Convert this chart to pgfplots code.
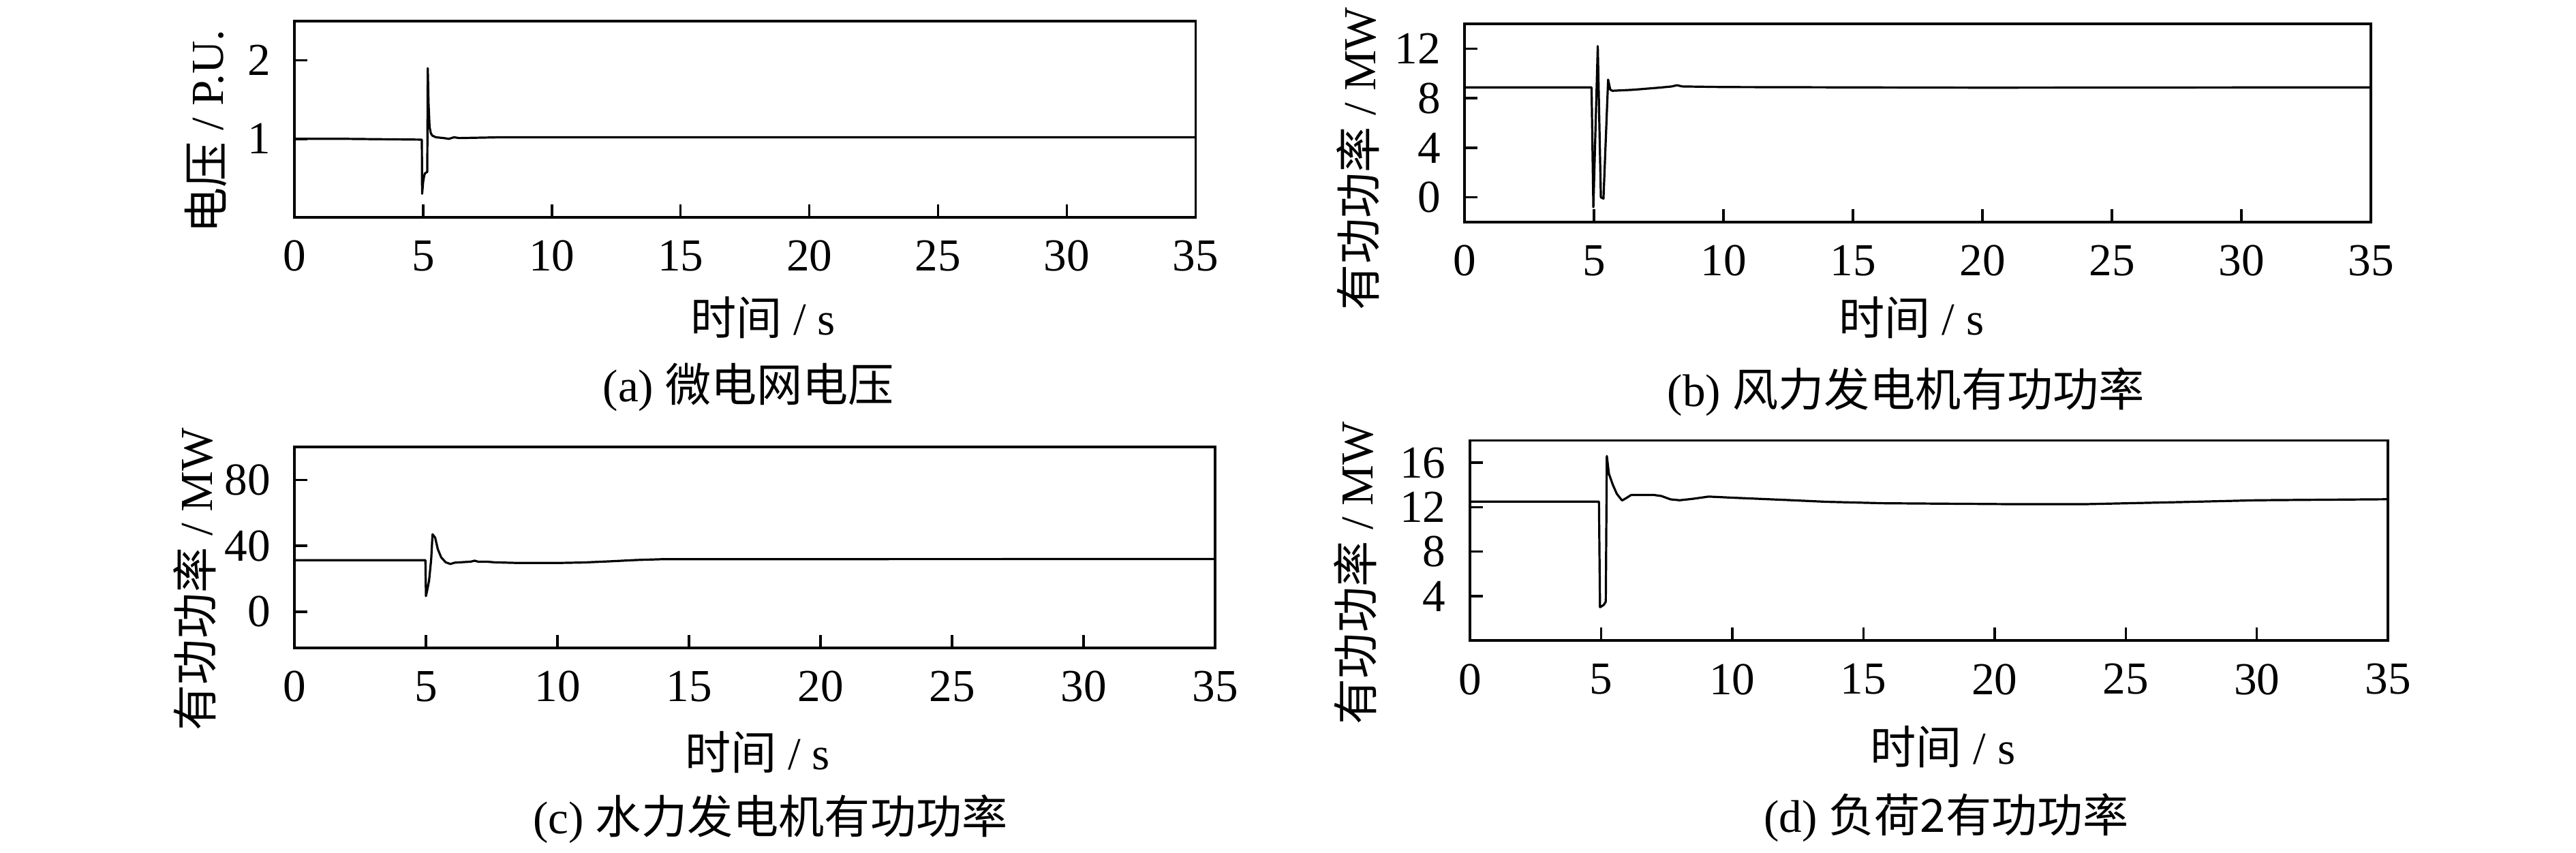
\documentclass[border=0pt]{standalone}
\usepackage{fontspec}
\setmainfont{Liberation Serif}
\newfontfamily\cjk{Noto Sans CJK SC}
\usepackage{pgfplots}
\pgfplotsset{compat=1.18}
\pgfplotsset{
  every axis title shift=0pt,
  myax/.style={
    scale only axis, xmin=0, xmax=35, xtick={0,5,...,35},
    tick align=inside, xtick pos=left, ytick pos=left,
    major tick length=3pt,
    axis line style={line width=0.55pt},
    every tick/.style={line width=0.55pt, black},
    tick label style={font=\fontsize{10.5}{12}\selectfont},
    label style={font=\fontsize{10.5}{12}\selectfont},
    title style={font=\fontsize{10.5}{12}\selectfont, anchor=center},
    /pgf/number format/assume math mode=true,
    xticklabel style={yshift=-1.8pt},
    yticklabel style={xshift=-2pt},
    xlabel={{\cjk 时间} / s},
    xlabel style={anchor=center},
    ylabel style={anchor=center},
  },
  ln/.style={black, line width=0.5pt, line join=round, no marks, sharp plot},
}
\begin{document}
\begin{tikzpicture}
\path[use as bounding box] (0,0) rectangle (590.6pt,-195.6pt);
% (a)
\begin{axis}[myax, at={(67.5pt,-49.84pt)}, anchor=south west,
  width=206.6pt, height=45pt, ymin=0, ymax=2.5, ytick={1,2},
  ylabel={{\cjk 电压} / P.U.},
  ylabel style={at={(axis description cs:-0.098,0.4375)}},
  xlabel style={at={(axis description cs:0.52,-0.51)}},
  title={(a) {\cjk 微电网电压}},
  title style={at={(axis description cs:0.504,-0.865)}}]
\addplot[ln] coordinates {(0,1.00) (2,1.00) (4.95,0.99) (4.96,0.30) (5.0,0.45) (5.04,0.53) (5.07,0.56) (5.16,0.58)
 (5.18,1.90) (5.21,1.45) (5.25,1.15) (5.3,1.07) (5.36,1.04) (5.5,1.02) (5.8,1.01) (6.0,1.00) (6.2,1.02) (6.4,1.01) (8,1.02) (35,1.02)};
\end{axis}
% (b)
\begin{axis}[myax, at={(335.8pt,-50.94pt)}, anchor=south west,
  width=207.8pt, height=45.47pt, ymin=-2, ymax=14, ytick={0,4,8,12},
  ylabel={{\cjk 有功功率} / MW},
  ylabel style={at={(axis description cs:-0.118,0.32)}},
  xlabel style={at={(axis description cs:0.493,-0.48)}},
  title={(b) {\cjk 风力发电机有功功率}},
  title style={at={(axis description cs:0.487,-0.856)}}]
\addplot[ln] coordinates {(0,8.87) (4.9,8.87) (4.97,-0.8) (5.14,12.2) (5.26,0.0) (5.36,-0.1) (5.54,9.5) (5.62,8.7) (5.7,8.6)
 (6.5,8.68) (7.5,8.85) (8.0,8.95) (8.2,9.05) (8.4,8.95) (10,8.9) (20,8.85) (35,8.88)};
\end{axis}
% (c)
\begin{axis}[myax, at={(67.5pt,-148.6pt)}, anchor=south west,
  width=211.1pt, height=46.1pt, ymin=-22, ymax=100, ytick={0,40,80},
  ylabel={{\cjk 有功功率} / MW},
  ylabel style={at={(axis description cs:-0.108,0.342)}},
  xlabel style={at={(axis description cs:0.503,-0.52)}},
  title={(c) {\cjk 水力发电机有功功率}},
  title style={at={(axis description cs:0.517,-0.851)}}]
\addplot[ln] coordinates {(0,31.3) (4.98,31.3) (5.0,9.5) (5.06,14) (5.12,19) (5.2,32) (5.25,47) (5.35,45) (5.45,38) (5.58,33)
 (5.75,30) (5.93,29) (6.1,29.8) (6.4,30.1) (6.7,30.4) (6.85,31) (7.0,30.3) (7.3,30.4) (7.6,30.0) (8.5,29.6) (10,29.6)
 (11,29.9) (12,30.6) (13,31.4) (14,31.9) (35,32.0)};
\end{axis}
% (d)
\begin{axis}[myax, at={(337pt,-146.9pt)}, anchor=south west,
  width=210.5pt, height=45.9pt, ymin=0, ymax=18, ytick={4,8,12,16},
  ylabel={{\cjk 有功功率} / MW},
  ylabel style={at={(axis description cs:-0.125,0.337)}},
  xlabel style={at={(axis description cs:0.515,-0.53)}},
  title={(d) {\cjk 负荷2有功功率}},
  title style={at={(axis description cs:0.519,-0.884)}}]
\addplot[ln] coordinates {(0,12.5) (4.92,12.5) (4.96,3.0) (5.1,3.2) (5.18,3.5) (5.22,16.6) (5.3,15.0) (5.45,14.0) (5.6,13.2)
 (5.8,12.6) (5.95,12.8) (6.15,13.1) (7.0,13.1) (7.3,13.0) (7.65,12.7) (8.0,12.62) (8.5,12.75) (9.1,12.95) (10,12.85)
 (12,12.65) (13.6,12.48) (15.8,12.35) (20.5,12.27) (23.5,12.27) (27.2,12.46) (30,12.62) (35,12.71)};
\end{axis}
\end{tikzpicture}
\end{document}
